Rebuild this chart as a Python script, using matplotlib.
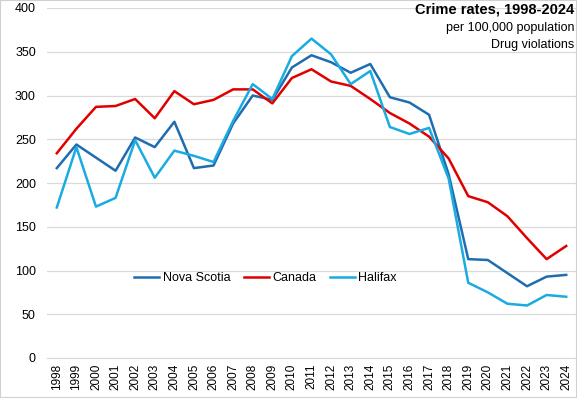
import numpy as np
import matplotlib.pyplot as plt
from matplotlib.patches import Rectangle

years = [str(y) for y in range(1998, 2025)]

nova_scotia = [217, 244, 229, 214, 252, 241, 270, 217, 220, 268, 300, 295, 332, 346,
               338, 326, 336, 298, 292, 278, 210, 113, 112, 97, 82, 93, 95]
canada = [234, 262, 287, 288, 296, 274, 305, 290, 295, 307, 307, 291, 320, 330,
          316, 311, 296, 280, 268, 253, 228, 185, 178, 162, 137, 113, 128]
halifax = [172, 241, 173, 183, 249, 206, 237, 231, 224, 271, 313, 296, 345, 365,
           347, 313, 328, 264, 256, 263, 205, 86, 75, 62, 60, 72, 70]

plt.rcParams['font.family'] = ['Liberation Sans', 'DejaVu Sans']

fig = plt.figure(figsize=(5.77, 3.98), dpi=100)
ax = fig.add_axes([47/577, 40/398, 529/577, 350/398])

x = np.arange(len(years))
ax.plot(x, nova_scotia, color='#1f6db0', lw=1.8, label='Nova Scotia')
ax.plot(x, canada, color='#e00000', lw=1.8, label='Canada')
ax.plot(x, halifax, color='#1aabe0', lw=1.8, label='Halifax')

ax.set_xlim(-0.5, len(years) - 0.5)
ax.set_ylim(0, 400)
ax.set_yticks(range(0, 401, 50))
ax.set_xticks(x)
ax.set_xticklabels(years, rotation=90, fontsize=8.5)
ax.tick_params(axis='y', labelsize=9, length=0, pad=8)
ax.tick_params(axis='x', length=0, pad=4)
ax.grid(axis='y', color='#d9d9d9', lw=0.9)
ax.set_axisbelow(True)
for s in ['top', 'right', 'left']:
    ax.spines[s].set_visible(False)
ax.spines['bottom'].set_color('#d9d9d9')

ax.legend(loc='center', bbox_to_anchor=(0.413, 91/400), ncol=3, frameon=False,
          fontsize=9, handlelength=2.0, columnspacing=1.1, handletextpad=0.25)

fig.text(0.995, 0.975, 'Crime rates, 1998-2024', ha='right', va='center',
         fontsize=10.5, fontweight='bold')
fig.text(0.995, 0.93, 'per 100,000 population', ha='right', va='center', fontsize=9)
fig.text(0.995, 0.888, 'Drug violations', ha='right', va='center', fontsize=9)

fig.patches.append(Rectangle((0, 0), 1, 1, transform=fig.transFigure, fill=False,
                             edgecolor='#d0d0d0', lw=1.5))

fig.savefig('out.png', dpi=100)
